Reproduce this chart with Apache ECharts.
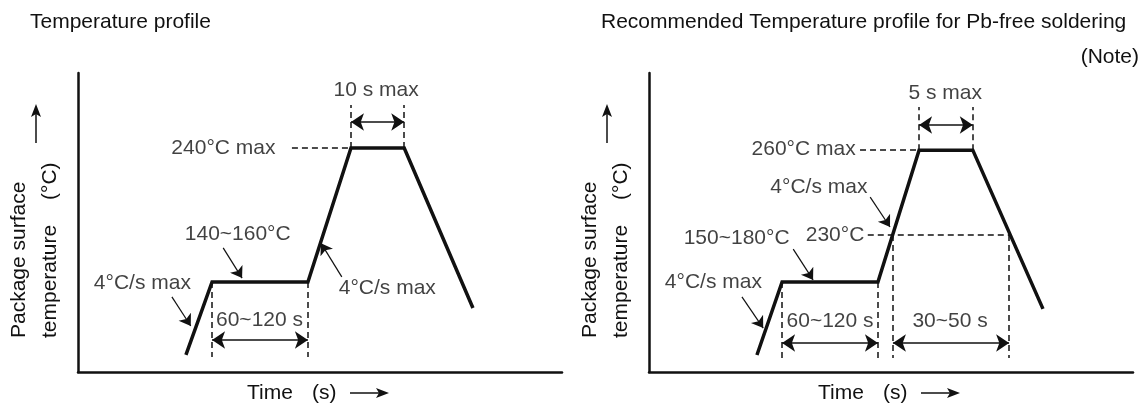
<!DOCTYPE html>
<html>
<head>
<meta charset="utf-8">
<script src="https://cdn.jsdelivr.net/npm/echarts@6/dist/echarts.min.js"></script>
<style>
  html, body { margin: 0; padding: 0; background: #fff; }
  #chart { width: 1146px; height: 406px; }
</style>
</head>
<body>
<div id="chart"></div>
<script>
// both panels are schematic: time and temperature run 0..100 (relative units)
const FONT = '"Liberation Sans", Arial, sans-serif'
const INK = '#111'

// left panel - Temperature profile
const leftTime = [22.3, 27.7, 47.5, 56.4, 67.4, 81.6]
const leftTemp = [5.7, 30.1, 30.1, 74.9, 74.9, 21.4]
const leftDashes = [
  [[56.4, 74.9], [56.4, 89.3]],
  [[67.4, 74.9], [67.4, 89.3]],
  [[44.2, 74.9], [56.4, 74.9]],
  [[27.7, 30.1], [27.7, 5.0]],
  [[47.5, 30.1], [47.5, 5.0]]
]
const leftSpans = [
  [[56.4, 83.6], [67.4, 83.6]],
  [[27.7, 10.7], [47.5, 10.7]]
]
const leftPointers = [
  [[30.0, 41.5], [33.9, 31.4]],
  [[19.4, 25.1], [23.3, 15.4]],
  [[54.5, 31.8], [50.2, 43.1]]
]
const leftNotes = [
  [61.6, 94.3, '10 s max', 'inside'],
  [40.9, 74.9, '240°C max', 'left'],
  [33.0, 46.2, '140~160°C', 'inside'],
  [13.3, 29.8, '4°C/s max', 'inside'],
  [63.9, 28.1, '4°C/s max', 'inside'],
  [37.5, 17.4, '60~120 s', 'inside']
]

// right panel - Recommended profile for Pb-free soldering
const rightTime = [22.3, 27.5, 47.3, 55.8, 66.9, 81.4]
const rightTemp = [5.7, 30.1, 30.1, 74.2, 74.2, 21.1]
const rightDashes = [
  [[55.8, 74.2], [55.8, 88.6]],
  [[66.9, 74.2], [66.9, 88.6]],
  [[43.6, 74.2], [55.8, 74.2]],
  [[45.2, 45.8], [74.4, 45.8]],
  [[27.5, 30.1], [27.5, 4.7]],
  [[47.3, 30.1], [47.3, 4.7]],
  [[50.4, 45.8], [50.4, 4.7]],
  [[74.4, 45.8], [74.4, 4.7]]
]
const rightSpans = [
  [[55.8, 82.6], [66.9, 82.6]],
  [[27.5, 9.7], [47.3, 9.7]],
  [[50.4, 9.7], [74.4, 9.7]]
]
const rightPointers = [
  [[45.7, 58.5], [49.8, 48.5]],
  [[29.8, 41.1], [33.9, 30.8]],
  [[19.2, 25.1], [23.6, 14.7]]
]
const rightNotes = [
  [61.2, 93.3, '5 s max', 'inside'],
  [42.8, 74.4, '260°C max', 'left'],
  [35.1, 61.9, '4°C/s max', 'inside'],
  [44.6, 45.8, '230°C', 'left'],
  [18.1, 44.8, '150~180°C', 'inside'],
  [13.3, 30.1, '4°C/s max', 'inside'],
  [37.4, 17.1, '60~120 s', 'inside'],
  [62.2, 17.1, '30~50 s', 'inside']
]

const chart = echarts.init(document.getElementById('chart'))

const axisLine = { show: true, onZero: false, lineStyle: { color: INK, width: 2.5 } }
const bareAxis = (type, i) => ({
  type: 'value', gridIndex: i, min: 0, max: 100,
  axisLine: axisLine, axisTick: { show: false }, axisLabel: { show: false }, splitLine: { show: false }
})

const panel = (i, time, temp, dashes, spans, pointers, notes) => [
  {
    type: 'line', xAxisIndex: i, yAxisIndex: i, symbol: 'none', silent: true,
    lineStyle: { color: INK, width: 3.5, join: 'miter' },
    data: time.map((t, k) => [t, temp[k]])
  },
  {
    type: 'lines', coordinateSystem: 'cartesian2d', xAxisIndex: i, yAxisIndex: i, silent: true,
    symbol: 'none', lineStyle: { color: INK, width: 1.5, type: [6, 4], opacity: 1, curveness: 0 },
    data: dashes.map(c => ({ coords: c }))
  },
  {
    type: 'lines', coordinateSystem: 'cartesian2d', xAxisIndex: i, yAxisIndex: i, silent: true,
    symbol: ['arrow', 'arrow'], symbolSize: 13,
    lineStyle: { color: INK, width: 1.5, opacity: 1, curveness: 0 },
    data: spans.map(c => ({ coords: c }))
  },
  {
    type: 'lines', coordinateSystem: 'cartesian2d', xAxisIndex: i, yAxisIndex: i, silent: true,
    symbol: ['none', 'arrow'], symbolSize: 11,
    lineStyle: { color: INK, width: 1.2, opacity: 1, curveness: 0 },
    data: pointers.map(c => ({ coords: c }))
  },
  {
    type: 'scatter', xAxisIndex: i, yAxisIndex: i, silent: true, symbolSize: 1,
    itemStyle: { color: 'rgba(0,0,0,0)' },
    label: { show: true, formatter: '{b}', fontSize: 21, fontFamily: FONT, color: INK, distance: 0 },
    data: notes.map(n => ({ name: n[2], value: [n[0], n[1]], label: { position: n[3] } }))
  }
]

// axis captions and their arrows, drawn beside each panel (dx = panel offset)
const captions = (dx) => [
  { type: 'text', x: 19 + dx, y: 338, rotation: Math.PI / 2,
    style: { text: 'Package surface', fontSize: 21, fontFamily: FONT, fill: INK, align: 'left', verticalAlign: 'middle' } },
  { type: 'text', x: 50 + dx, y: 338, rotation: Math.PI / 2,
    style: { text: 'temperature', fontSize: 21, fontFamily: FONT, fill: INK, align: 'left', verticalAlign: 'middle' } },
  { type: 'text', x: 50 + dx, y: 200, rotation: Math.PI / 2,
    style: { text: '(°C)', fontSize: 21, fontFamily: FONT, fill: INK, align: 'left', verticalAlign: 'middle' } },
  { type: 'line', shape: { x1: 36 + dx, y1: 143, x2: 36 + dx, y2: 112 }, style: { stroke: INK, lineWidth: 1.5 } },
  { type: 'polygon', shape: { points: [[36 + dx, 104], [31 + dx, 117], [36 + dx, 114], [41 + dx, 117]] }, style: { fill: INK } },
  { type: 'text', x: 247 + dx, y: 393,
    style: { text: 'Time', fontSize: 21, fontFamily: FONT, fill: INK, align: 'left', verticalAlign: 'middle' } },
  { type: 'text', x: 312 + dx, y: 393,
    style: { text: '(s)', fontSize: 21, fontFamily: FONT, fill: INK, align: 'left', verticalAlign: 'middle' } },
  { type: 'line', shape: { x1: 350 + dx, y1: 393, x2: 381 + dx, y2: 393 }, style: { stroke: INK, lineWidth: 1.5 } },
  { type: 'polygon', shape: { points: [[389 + dx, 393], [376 + dx, 388], [379 + dx, 393], [376 + dx, 398]] }, style: { fill: INK } }
]

const titleStyle = { fontSize: 21, fontWeight: 'normal', fontFamily: FONT, color: INK }

const option = {
  animation: false,
  backgroundColor: '#fff',
  title: [
    { text: 'Temperature profile', left: 30, top: 12, padding: 0, textStyle: titleStyle },
    { text: 'Recommended Temperature profile for Pb-free soldering', left: 601, top: 12, padding: 0, textStyle: titleStyle },
    { text: '(Note)', right: 7, top: 47, padding: 0, textStyle: titleStyle }
  ],
  grid: [
    { left: 78, top: 73, width: 484, height: 299 },
    { left: 649, top: 73, width: 484, height: 299 }
  ],
  xAxis: [bareAxis('x', 0), bareAxis('x', 1)],
  yAxis: [bareAxis('y', 0), bareAxis('y', 1)],
  series: [
    ...panel(0, leftTime, leftTemp, leftDashes, leftSpans, leftPointers, leftNotes),
    ...panel(1, rightTime, rightTemp, rightDashes, rightSpans, rightPointers, rightNotes)
  ],
  graphic: [...captions(0), ...captions(571)]
}

chart.setOption(option)
</script>
</body>
</html>
